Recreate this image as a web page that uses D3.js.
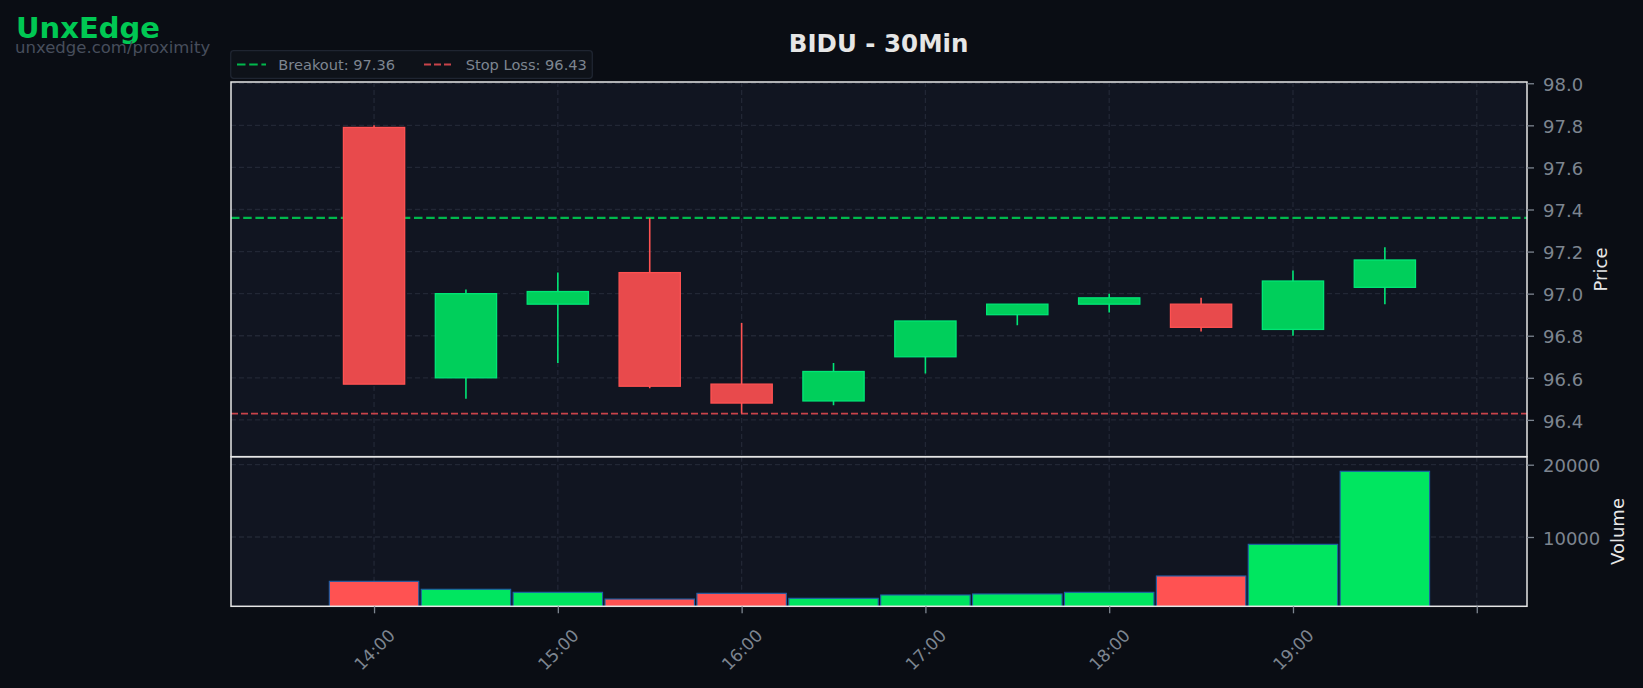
<!DOCTYPE html>
<html><head><meta charset="utf-8">
<script src="https://cdn.jsdelivr.net/npm/d3@7"></script>
<style>
html,body{margin:0;padding:0;background:#0a0d14;}
svg{display:block;font-family:"DejaVu Sans",sans-serif;}
</style></head>
<body><svg id="c" width="1643" height="688"></svg>
<script>
// ---- data ----
const times  = ["14:00","14:30","15:00","15:30","16:00","16:30","17:00","17:30","18:00","18:30","19:00","19:30"];
const opens  = [97.79, 96.60, 96.95, 97.10, 96.57, 96.49, 96.70, 96.90, 96.95, 96.95, 96.83, 97.03];
const highs  = [97.80, 97.02, 97.10, 97.36, 96.86, 96.67, 96.87, 96.95, 97.00, 96.98, 97.11, 97.22];
const lows   = [96.57, 96.50, 96.67, 96.55, 96.43, 96.47, 96.62, 96.85, 96.91, 96.82, 96.80, 96.95];
const closes = [96.57, 97.00, 97.01, 96.56, 96.48, 96.63, 96.87, 96.95, 96.98, 96.84, 97.06, 97.16];
const volumes= [3870, 2770, 2350, 1420, 2210, 1520, 1980, 2120, 2350, 4610, 8990, 19090];
const priceTicks = [96.4, 96.6, 96.8, 97.0, 97.2, 97.4, 97.6, 97.8, 98.0];
const volumeTicks = [10000, 20000];
const timeTicks = ["14:00","15:00","16:00","17:00","18:00","19:00","20:00"];
const timeTickLabels = ["14:00","15:00","16:00","17:00","18:00","19:00",""];
const breakout = 97.36, stopLoss = 96.43;
const title = "BIDU - 30Min";

// ---- helpers ----
const parseT = s => { const [h,m] = s.split(":").map(Number); return new Date(2024,0,2,h,m); };
const addMin = (d,m) => new Date(d.getTime() + m*60000);
const data = times.map((t,i)=>({t:parseT(t), o:opens[i], h:highs[i], l:lows[i], c:closes[i], v:volumes[i]}));

const svg = d3.select("#c");
const W = 1643, H = 688;
svg.append("rect").attr("width",W).attr("height",H).attr("fill","#0a0d14");

const L = 231, R = 1527;
const pTop = 82, pBot = 456.7, vTop = 456.7, vBot = 606.3;

const x = d3.scaleTime()
  .domain([addMin(parseT("14:00"), -46.7), addMin(parseT("14:00"), 376.4)])
  .range([L, R]);
const yP = d3.scaleLinear().domain([96.225, 98.006]).range([pBot, pTop]);
const yV = d3.scaleLinear().domain([415, 21107]).range([vBot, vTop]);

const gridC = "#222735", tickC = "#7d8590", textC = "#7d8590";

// panel backgrounds
svg.append("rect").attr("x",L).attr("y",pTop).attr("width",R-L).attr("height",pBot-pTop).attr("fill","#111521");
svg.append("rect").attr("x",L).attr("y",vTop).attr("width",R-L).attr("height",vBot-vTop).attr("fill","#111521");

const defs = svg.append("defs");
defs.append("clipPath").attr("id","cp").append("rect").attr("x",L).attr("y",pTop).attr("width",R-L).attr("height",pBot-pTop);
defs.append("clipPath").attr("id","cv").append("rect").attr("x",L).attr("y",vTop).attr("width",R-L).attr("height",vBot-vTop);

// grid lines
const gP = svg.append("g").attr("clip-path","url(#cp)");
const gV = svg.append("g").attr("clip-path","url(#cv)");
timeTicks.forEach(t=>{
  const xx = x(parseT(t));
  [[gP,pTop,pBot],[gV,vTop,vBot]].forEach(([g,a,b])=>{
    g.append("line").attr("x1",xx).attr("x2",xx).attr("y1",a).attr("y2",b)
      .attr("stroke",gridC).attr("stroke-width",1.3).attr("stroke-dasharray","5,3");
  });
});
priceTicks.forEach(p=>{
  gP.append("line").attr("x1",L).attr("x2",R).attr("y1",yP(p)).attr("y2",yP(p))
    .attr("stroke",gridC).attr("stroke-width",1.3).attr("stroke-dasharray","5,3");
});
volumeTicks.forEach(v=>{
  gV.append("line").attr("x1",L).attr("x2",R).attr("y1",yV(v)).attr("y2",yV(v))
    .attr("stroke",gridC).attr("stroke-width",1.3).attr("stroke-dasharray","5,3");
});

// level lines
gP.append("line").attr("x1",L).attr("x2",R).attr("y1",yP(breakout)).attr("y2",yP(breakout))
  .attr("stroke","#00b84c").attr("stroke-width",2.2).attr("stroke-dasharray","8.5,3.7");
gP.append("line").attr("x1",L).attr("x2",R).attr("y1",yP(stopLoss)).attr("y2",yP(stopLoss))
  .attr("stroke","#c8434a").attr("stroke-width",1.8).attr("stroke-dasharray","7,3");

// candles
const upFill = "#00cf5b", upEdge = "#00e676", dnFill = "#e84a4c", dnEdge = "#ff5252";
const bw = x(addMin(parseT("14:00"),20)) - x(parseT("14:00"));
const cg = gP.selectAll("g.candle").data(data).enter().append("g");
cg.append("line")
  .attr("x1",d=>x(d.t)).attr("x2",d=>x(d.t))
  .attr("y1",d=>yP(d.h)).attr("y2",d=>yP(d.l))
  .attr("stroke",d=>d.c>=d.o?upEdge:dnEdge).attr("stroke-width",1.6);
cg.append("rect")
  .attr("x",d=>x(d.t)-bw/2).attr("width",bw)
  .attr("y",d=>yP(Math.max(d.o,d.c))).attr("height",d=>Math.max(1,Math.abs(yP(d.o)-yP(d.c))))
  .attr("fill",d=>d.c>=d.o?upFill:dnFill)
  .attr("stroke",d=>d.c>=d.o?upEdge:dnEdge).attr("stroke-width",1.3);

// volume bars
const vw = x(addMin(parseT("14:00"),29.2)) - x(parseT("14:00"));
gV.selectAll("rect.vol").data(data).enter().append("rect")
  .attr("x",d=>x(d.t)-vw/2).attr("width",vw)
  .attr("y",d=>yV(d.v)).attr("height",d=>yV(0)-yV(d.v))
  .attr("fill",d=>d.c>=d.o?"#00e660":"#ff5252")
  .attr("stroke","#1f5fa8").attr("stroke-width",1.1);

// spines
svg.append("rect").attr("x",L).attr("y",pTop).attr("width",R-L).attr("height",pBot-pTop)
  .attr("fill","none").attr("stroke","#e6e6e6").attr("stroke-width",1.5);
svg.append("rect").attr("x",L).attr("y",vTop).attr("width",R-L).attr("height",vBot-vTop)
  .attr("fill","none").attr("stroke","#e6e6e6").attr("stroke-width",1.5);

// price axis (right)
const axP = svg.append("g").attr("transform",`translate(${R},0)`)
  .call(d3.axisRight(yP).tickValues(priceTicks).tickFormat(d3.format(".1f")).tickSize(7).tickPadding(9));
const axV = svg.append("g").attr("transform",`translate(${R},0)`)
  .call(d3.axisRight(yV).tickValues(volumeTicks).tickFormat(d3.format("d")).tickSize(7).tickPadding(9));
[axP,axV].forEach(a=>{
  a.select(".domain").remove();
  a.selectAll(".tick line").attr("stroke",tickC).attr("stroke-width",1.3);
  a.selectAll(".tick text").attr("fill",textC).attr("font-size",18).attr("font-family","DejaVu Sans")
    .attr("dy","0.4em");
});

// time axis (bottom)
const axT = svg.append("g").attr("transform",`translate(0,${vBot})`)
  .call(d3.axisBottom(x).tickValues(timeTicks.map(parseT)).tickFormat((d,i)=>timeTickLabels[i]).tickSize(7));
axT.select(".domain").remove();
axT.selectAll(".tick line").attr("stroke",tickC).attr("stroke-width",1.3);
axT.selectAll(".tick text")
  .attr("fill",textC).attr("font-size",17).attr("font-family","DejaVu Sans")
  .attr("text-anchor","middle").attr("dy","0.35em")
  .attr("transform","translate(0,43.5) rotate(-45)").attr("y",0);

// axis labels
svg.append("text").attr("transform","translate(1607,269.5) rotate(-90)")
  .attr("text-anchor","middle").attr("fill","#e6e6e6").attr("font-size",18).text("Price");
svg.append("text").attr("transform","translate(1624,531.5) rotate(-90)")
  .attr("text-anchor","middle").attr("fill","#e6e6e6").attr("font-size",18).text("Volume");

// title
svg.append("text").attr("x",878.6).attr("y",51.8).attr("text-anchor","middle")
  .attr("fill","#e6e6e6").attr("font-size",24.5).attr("font-weight","bold").text(title);

// brand
svg.append("text").attr("x",16).attr("y",38).attr("fill","#00c853")
  .attr("font-size",29).attr("font-weight","bold").text("UnxEdge");
svg.append("text").attr("x",15).attr("y",52.5).attr("fill","#474e5c")
  .attr("font-size",16.5).text("unxedge.com/proximity");

// legend
const lg = svg.append("g");
lg.append("rect").attr("x",230.7).attr("y",50.7).attr("width",361.6).attr("height",27.6).attr("rx",3)
  .attr("fill","#0e1219").attr("stroke","#1f2531").attr("stroke-width",1.3);
lg.append("line").attr("x1",237).attr("x2",266).attr("y1",64.5).attr("y2",64.5)
  .attr("stroke","#00b84c").attr("stroke-width",2.2).attr("stroke-dasharray","8.5,3.7");
lg.append("text").attr("x",278.3).attr("y",70).attr("fill",textC).attr("font-size",14.6)
  .text("Breakout: " + breakout.toFixed(2));
lg.append("line").attr("x1",424).attr("x2",453.3).attr("y1",64.5).attr("y2",64.5)
  .attr("stroke","#c8434a").attr("stroke-width",1.8).attr("stroke-dasharray","7,3");
lg.append("text").attr("x",465.7).attr("y",70).attr("fill",textC).attr("font-size",14.6)
  .text("Stop Loss: " + stopLoss.toFixed(2));
</script></body></html>
